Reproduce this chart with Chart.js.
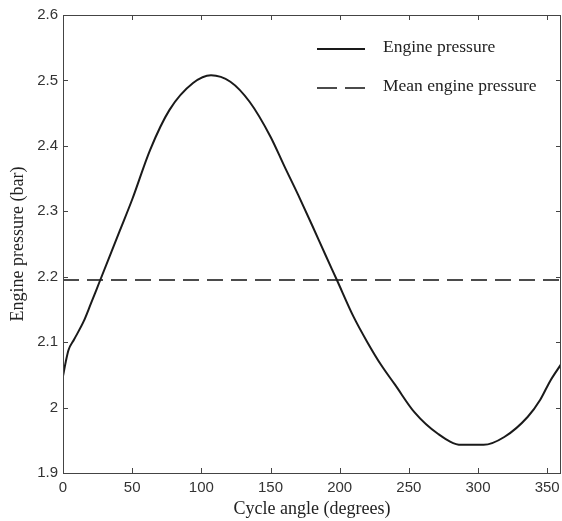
<!DOCTYPE html>
<html>
<head>
<meta charset="utf-8">
<script src="https://cdn.jsdelivr.net/npm/chart.js@4.4.1/dist/chart.umd.min.js"></script>
<style>
  html, body { margin: 0; padding: 0; background: #fff; }
</style>
</head>
<body>
<canvas id="engine_chart" width="562" height="521"></canvas>
<script>
// values
const cycleAngle = [0, 2, 4, 8, 15, 20, 26, 35, 41, 50, 63, 77, 94, 107, 121, 135, 150, 160, 170, 180, 190, 198, 210, 220, 230, 240, 254, 271, 288, 304, 319, 336, 345, 352, 360];
const enginePressure = [2.048, 2.07, 2.088, 2.104, 2.132, 2.158, 2.19, 2.238, 2.27, 2.318, 2.394, 2.455, 2.496, 2.508, 2.498, 2.467, 2.414, 2.369, 2.325, 2.279, 2.232, 2.195, 2.139, 2.1, 2.065, 2.035, 1.993, 1.96, 1.943, 1.943, 1.955, 1.986, 2.012, 2.04, 2.066];
const meanAngle = [0, 360];
const meanPressure = [2.195, 2.195];
const xTicks = [0, 50, 100, 150, 200, 250, 300, 350];
const yTicks = [1.9, 2.0, 2.1, 2.2, 2.3, 2.4, 2.5, 2.6];

const toPoints = (xs, ys) => xs.map((x, i) => ({ x: x, y: ys[i] }));

// box round the plot with small inward ticks on all four sides
const frameTicks = {
  id: "frameTicks",
  afterDraw(chart) {
    const ctx = chart.ctx;
    const a = chart.chartArea;
    const xs = chart.scales.x, ys = chart.scales.y;
    ctx.save();
    ctx.strokeStyle = "#444";
    ctx.lineWidth = 1;
    ctx.strokeRect(a.left + 0.5, a.top + 0.5, a.right - a.left - 1, a.bottom - a.top);
    ctx.beginPath();
    xTicks.forEach(v => {
      const px = Math.round(xs.getPixelForValue(v)) + 0.5;
      ctx.moveTo(px, a.bottom); ctx.lineTo(px, a.bottom - 5);
      ctx.moveTo(px, a.top); ctx.lineTo(px, a.top + 5);
    });
    yTicks.forEach(v => {
      const py = Math.round(ys.getPixelForValue(v)) + 0.5;
      ctx.moveTo(a.left, py); ctx.lineTo(a.left + 5, py);
      ctx.moveTo(a.right, py); ctx.lineTo(a.right - 5, py);
    });
    ctx.stroke();
    ctx.restore();
  }
};

// legend drawn inside the plot, top right
const insideLegend = {
  id: "insideLegend",
  afterDraw(chart) {
    const ctx = chart.ctx;
    const a = chart.chartArea;
    ctx.save();
    ctx.font = "17.5px 'Liberation Serif', serif";
    ctx.textBaseline = "middle";
    ctx.fillStyle = "#222";
    chart.data.datasets.forEach((ds, i) => {
      const y = a.top + 32 + i * 39;
      ctx.beginPath();
      ctx.strokeStyle = ds.borderColor;
      ctx.lineWidth = ds.borderWidth;
      ctx.setLineDash(ds.borderDash ? [20, 8] : []);
      ctx.moveTo(a.left + 254, y + 2);
      ctx.lineTo(a.left + 302, y + 2);
      ctx.stroke();
      ctx.setLineDash([]);
      ctx.fillText(ds.label, a.left + 320, y);
    });
    ctx.restore();
  }
};

const tickFont = { family: "'Liberation Sans', Arial, sans-serif", size: 15 };
const titleFont = { family: "'Liberation Serif', 'Times New Roman', serif", size: 18 };

const chart = new Chart(document.getElementById("engine_chart").getContext("2d"), {
  type: "line",
  data: {
    datasets: [
      {
        label: "Engine pressure",
        data: toPoints(cycleAngle, enginePressure),
        borderColor: "#1a1a1a",
        borderWidth: 2,
        pointRadius: 0,
        cubicInterpolationMode: "monotone",
        fill: false
      },
      {
        label: "Mean engine pressure",
        data: toPoints(meanAngle, meanPressure),
        borderColor: "#111",
        borderWidth: 1.4,
        borderDash: [16, 8],
        pointRadius: 0,
        fill: false
      }
    ]
  },
  options: {
    responsive: false,
    animation: false,
    devicePixelRatio: 1,
    layout: { padding: { top: 15, right: 1, left: 0, bottom: 0 } },
    plugins: { legend: { display: false }, tooltip: { enabled: false } },
    scales: {
      x: {
        type: "linear",
        min: 0,
        max: 360,
        grid: { display: false, drawTicks: false },
        border: { display: false },
        afterBuildTicks: s => { s.ticks = xTicks.map(v => ({ value: v })); },
        afterFit: s => { s.height = 48; s.paddingLeft = 0; s.paddingRight = 0; },
        ticks: { color: "#333", font: tickFont, padding: 6, maxRotation: 0 },
        title: { display: true, text: "Cycle angle (degrees)", color: "#222", font: titleFont, padding: { top: 0, bottom: 1 } }
      },
      y: {
        type: "linear",
        min: 1.9,
        max: 2.6,
        grid: { display: false, drawTicks: false },
        border: { display: false },
        afterBuildTicks: s => { s.ticks = yTicks.map(v => ({ value: v })); },
        afterFit: s => { s.width = 63; },
        ticks: { color: "#333", font: tickFont, padding: 5, callback: v => String(Number(v.toFixed(1))) },
        title: { display: true, text: "Engine pressure (bar)", color: "#222", font: titleFont, padding: { top: 7, bottom: 0 } }
      }
    }
  },
  plugins: [frameTicks, insideLegend]
});
</script>
</body>
</html>
